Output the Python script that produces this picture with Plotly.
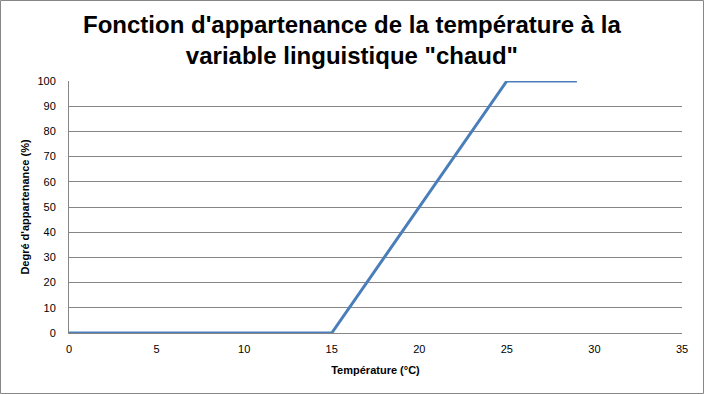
import plotly.graph_objects as go

temperature = [0, 15, 25, 29]
degre = [0, 0, 100, 100]
x_ticks = [0, 5, 10, 15, 20, 25, 30, 35]
y_ticks = [0, 10, 20, 30, 40, 50, 60, 70, 80, 90, 100]
title_text = "<b>Fonction d'appartenance de la température à la<br>variable linguistique \"chaud\"</b>"

fig = go.Figure()
fig.add_trace(go.Scatter(x=temperature, y=degre, mode="lines",
                         line=dict(color="#4A7EBB", width=3), showlegend=False))

fig.update_layout(
    width=704, height=394,
    margin=dict(l=69, r=22, t=81, b=61, autoexpand=False),
    paper_bgcolor="white", plot_bgcolor="white",
    font=dict(family="Liberation Sans, Arial, sans-serif", color="black", size=11),
    xaxis=dict(range=[0, 35], tickvals=x_ticks, showgrid=False, zeroline=False,
               showline=True, linecolor="#868686", linewidth=1,
               ticks="outside", ticklen=6, tickcolor="rgba(0,0,0,0)",
               title=dict(text="<b>Température (°C)</b>", font=dict(size=11), standoff=12)),
    yaxis=dict(range=[0, 100], tickvals=y_ticks, showgrid=True, gridcolor="#868686", gridwidth=1,
               zeroline=False, showline=True, linecolor="#868686", linewidth=1,
               ticks="outside", ticklen=10, tickcolor="rgba(0,0,0,0)",
               title=dict(text="<b>Degré d'appartenance (%)</b>", font=dict(size=11), standoff=5)),
    annotations=[dict(text=title_text, xref="paper", yref="paper", x=(352 - 69) / 613,
                      y=1 + 72 / 252, xanchor="center", yanchor="top", showarrow=False,
                      font=dict(size=24, color="black"))],
    shapes=[dict(type="rect", xref="paper", yref="paper", x0=-68.5/613, x1=1+21.5/613,
                 y0=-60.5/252, y1=1+80.5/252, line=dict(color="#868686", width=1))]
)

fig.write_html("out.html", config={"displayModeBar": False},
               post_script="document.body.style.margin='0';document.body.style.padding='0';")
